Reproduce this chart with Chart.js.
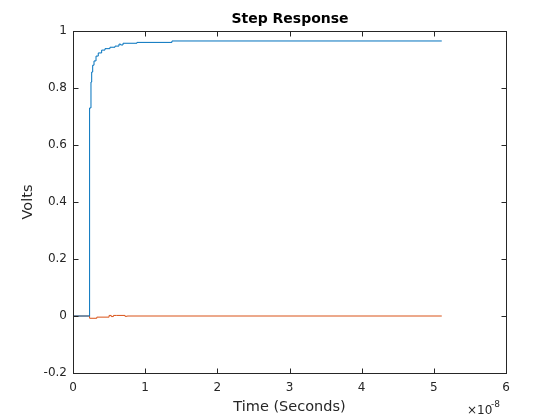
<!DOCTYPE html>
<html>
<head>
<meta charset="utf-8">
<script src="https://cdn.jsdelivr.net/npm/chart.js@4/dist/chart.umd.min.js"></script>
<style>
  html, body { margin: 0; padding: 0; background: #fff; }
  #wrap { width: 560px; height: 420px; }
</style>
</head>
<body>
<div id="wrap"><canvas id="step"></canvas></div>
<script>
// time in units of 1e-8 s
var blueT = [0, 0.22, 0.23, 0.249, 0.259, 0.273, 0.291, 0.319, 0.35, 0.397, 0.443, 0.512, 0.582, 0.637, 0.66, 0.693, 0.886, 1.371, 5.11];
var blueV = [0, 0, 0.73, 0.821, 0.856, 0.88, 0.895, 0.912, 0.923, 0.933, 0.938, 0.943, 0.947, 0.954, 0.951, 0.957, 0.96, 0.965, 0.965];
var redT = [0, 0.22, 0.23, 0.33, 0.5, 0.53, 0.56, 0.6, 0.72, 0.75, 5.11];
var redV = [0, 0, -0.008, -0.004, 0.002, -0.002, 0.002, 0.002, -0.001, 0, 0];
var xTicks = [0, 1, 2, 3, 4, 5, 6];
var yTicks = [-0.2, 0, 0.2, 0.4, 0.6, 0.8, 1];

var ink = '#262626';

function pts(t, v) {
  return t.map(function (x, i) { return { x: x, y: v[i] }; });
}

// MATLAB style box with inward ticks, title and exponent label
var frame = {
  id: 'frame',
  afterDraw: function (chart) {
    var c = chart.ctx, a = chart.chartArea;
    var xs = chart.scales.x, ys = chart.scales.y;
    var L = Math.round(a.left) + 0.5, R = Math.round(a.right) + 0.5;
    var T = Math.round(a.top) + 0.5, B = Math.round(a.bottom) + 0.5;
    c.save();
    c.strokeStyle = ink;
    c.lineWidth = 1;
    c.strokeRect(L, T, R - L, B - T);
    c.beginPath();
    xTicks.forEach(function (v) {
      var px = Math.round(xs.getPixelForValue(v)) + 0.5;
      c.moveTo(px, B); c.lineTo(px, B - 5);
      c.moveTo(px, T); c.lineTo(px, T + 5);
    });
    yTicks.forEach(function (v) {
      var py = Math.round(ys.getPixelForValue(v)) + 0.5;
      c.moveTo(L, py); c.lineTo(L + 5, py);
      c.moveTo(R, py); c.lineTo(R - 5, py);
    });
    c.stroke();
    c.fillStyle = '#000';
    c.font = 'bold 14px "DejaVu Sans", sans-serif';
    c.textAlign = 'center';
    c.textBaseline = 'middle';
    c.fillText('Step Response', (L + R) / 2, 19);
    c.fillStyle = ink;
    c.font = '12px "DejaVu Sans", sans-serif';
    c.textAlign = 'left';
    c.textBaseline = 'alphabetic';
    c.fillText('\u00d710', 467, 414);
    c.font = '9px "DejaVu Sans", sans-serif';
    c.fillText('-8', 491, 407);
    c.restore();
  }
};

new Chart(document.getElementById('step'), {
  type: 'line',
  data: {
    datasets: [
      {
        data: pts(blueT, blueV),
        borderColor: '#0072BD',
        borderWidth: 1,
        stepped: true,
        pointRadius: 0,
        fill: false
      },
      {
        data: pts(redT, redV),
        borderColor: '#D95319',
        borderWidth: 1,
        stepped: true,
        pointRadius: 0,
        fill: false
      }
    ]
  },
  options: {
    responsive: true,
    maintainAspectRatio: false,
    animation: false,
    layout: { padding: { top: 31, right: 54, left: 0, bottom: 0 } },
    plugins: { legend: { display: false }, tooltip: { enabled: false } },
    scales: {
      x: {
        type: 'linear',
        min: 0,
        max: 6,
        afterBuildTicks: function (s) { s.ticks = xTicks.map(function (v) { return { value: v }; }); },
        afterFit: function (s) { s.height = 47; },
        grid: { display: false, drawTicks: false },
        border: { display: false },
        ticks: { color: ink, padding: 8, font: { family: 'DejaVu Sans', size: 12 } },
        title: { display: true, text: 'Time (Seconds)', color: ink, padding: { top: 0, bottom: 4 }, font: { family: 'DejaVu Sans', size: 14.5 } }
      },
      y: {
        min: -0.2,
        max: 1,
        afterBuildTicks: function (s) { s.ticks = yTicks.map(function (v) { return { value: v }; }); },
        afterFit: function (s) { s.width = 73; },
        grid: { display: false, drawTicks: false },
        border: { display: false },
        ticks: {
          color: ink,
          padding: 6,
          font: { family: 'DejaVu Sans', size: 12 },
          callback: function (v) { return String(Math.round(v * 10) / 10); }
        },
        title: { display: true, text: 'Volts', color: ink, padding: { top: 20, bottom: 0 }, font: { family: 'DejaVu Sans', size: 14.5 } }
      }
    }
  },
  plugins: [frame]
});
</script>
</body>
</html>
